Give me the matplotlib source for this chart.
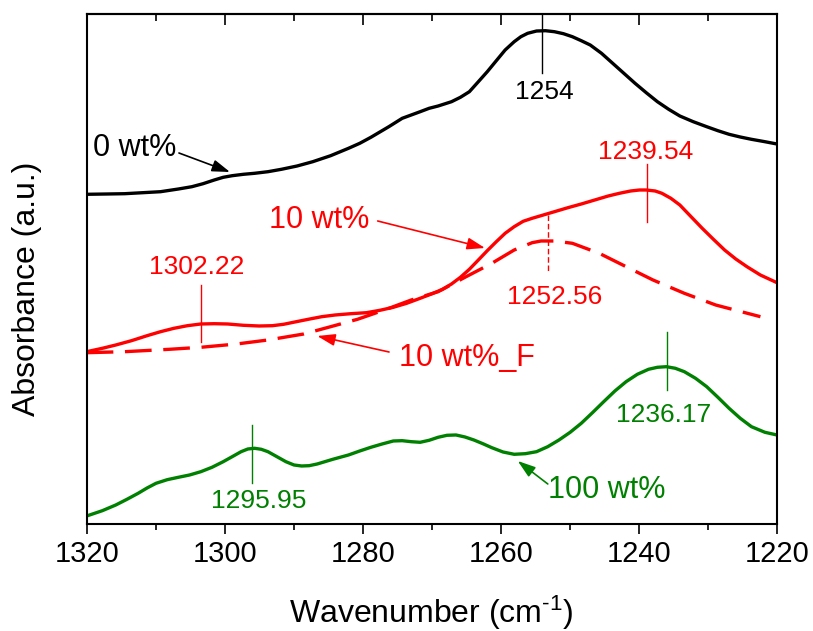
import matplotlib
matplotlib.use("Agg")
import matplotlib.pyplot as plt
from matplotlib.ticker import MultipleLocator

plt.rcParams['font.family'] = ['Liberation Sans', 'DejaVu Sans']
plt.rcParams['mathtext.fontset'] = 'custom'
plt.rcParams['mathtext.rm'] = 'Liberation Sans'
plt.rcParams['mathtext.it'] = 'Liberation Sans:italic'

# ---- data (wavenumber in cm-1, absorbance in arbitrary offset units) ----
w_0 = [1320, 1317.08, 1314.49, 1311.89, 1309.30, 1306.71, 1304.76, 1303.14, 1301.52,
       1300.22, 1298.92, 1297.30, 1295.68, 1293.74, 1291.79, 1289.52, 1287.25, 1284.66,
       1282.07, 1280.44, 1278.83, 1276.23, 1274.29, 1272.99, 1271.69, 1270.39, 1269.09,
       1267.15, 1265.86, 1264.56, 1263.26, 1261.97, 1260.66, 1259.38, 1258.07, 1257.10,
       1256.12, 1254.83, 1253.53, 1252.24, 1250.93, 1249.64, 1248.35, 1247.05, 1245.42,
       1243.80, 1242.18, 1240.56, 1238.94, 1237.32, 1235.69, 1234.07, 1232.13, 1230.18,
       1228.56, 1226.94, 1225.32, 1223.70, 1221.75, 1220.0]
a_0 = [3.297, 3.30, 3.303, 3.313, 3.323, 3.35, 3.373, 3.403, 3.44,
       3.467, 3.483, 3.497, 3.507, 3.523, 3.547, 3.58, 3.623, 3.683,
       3.757, 3.807, 3.867, 3.973, 4.057, 4.09, 4.123, 4.157, 4.18,
       4.223, 4.267, 4.323, 4.423, 4.523, 4.633, 4.74, 4.823, 4.873,
       4.907, 4.93, 4.933, 4.923, 4.903, 4.873, 4.833, 4.79, 4.707,
       4.607, 4.507, 4.407, 4.313, 4.223, 4.147, 4.08, 4.023, 3.973,
       3.933, 3.897, 3.87, 3.847, 3.823, 3.80]

w_10 = [1320, 1317.73, 1315.78, 1313.51, 1311.25, 1309.30, 1307.35, 1305.41, 1303.46,
        1301.52, 1299.57, 1297.30, 1295.03, 1293.09, 1291.47, 1289.84, 1287.90, 1285.95,
        1284.01, 1281.74, 1279.47, 1277.52, 1275.58, 1273.64, 1271.69, 1270.06, 1268.44,
        1267.15, 1265.86, 1264.56, 1263.26, 1261.97, 1260.66, 1259.38, 1258.07, 1256.77,
        1255.47, 1253.85, 1252.24, 1250.29, 1248.35, 1246.40, 1244.45, 1242.83, 1241.21,
        1239.92, 1238.94, 1237.64, 1236.67, 1235.37, 1234.07, 1232.45, 1230.83, 1229.21,
        1227.59, 1225.97, 1224.35, 1222.41, 1220]
a_10 = [1.723, 1.757, 1.79, 1.833, 1.883, 1.923, 1.957, 1.983, 2.00,
        2.003, 2.00, 1.987, 1.98, 1.983, 1.997, 2.02, 2.047, 2.073,
        2.09, 2.103, 2.113, 2.137, 2.167, 2.207, 2.257, 2.30, 2.347,
        2.40, 2.467, 2.547, 2.64, 2.733, 2.823, 2.907, 2.973, 3.027,
        3.057, 3.09, 3.123, 3.163, 3.20, 3.24, 3.28, 3.307, 3.33,
        3.34, 3.34, 3.33, 3.307, 3.257, 3.19, 3.073, 2.957, 2.847,
        2.74, 2.65, 2.573, 2.49, 2.413]

w_10F = [1320, 1314.49, 1308.0, 1303.46, 1298.27, 1293.74, 1288.55, 1284.66, 1280.77,
         1276.87, 1272.98, 1269.09, 1265.20, 1261.31, 1258.07, 1255.47, 1254.18, 1252.24,
         1249.64, 1245.75, 1241.85, 1237.96, 1233.42, 1228.88, 1222.40]
a_10F = [1.713, 1.723, 1.747, 1.767, 1.80, 1.84, 1.90, 1.973, 2.047,
         2.14, 2.24, 2.323, 2.467, 2.607, 2.74, 2.813, 2.83, 2.83,
         2.807, 2.707, 2.573, 2.44, 2.307, 2.19, 2.073]

w_100 = [1320, 1317.73, 1315.78, 1314.16, 1312.54, 1311.25, 1309.95, 1308.33, 1306.71,
         1305.09, 1303.46, 1301.84, 1300.22, 1298.92, 1297.63, 1296.65, 1295.68, 1294.71,
         1293.74, 1292.44, 1291.14, 1289.97, 1288.87, 1287.77, 1286.60, 1284.34, 1282.07,
         1280.44, 1278.83, 1277.20, 1275.58, 1274.29, 1272.99, 1271.69, 1270.39, 1269.09,
         1267.80, 1266.50, 1265.20, 1263.91, 1262.61, 1261.31, 1259.69, 1258.07, 1256.45,
         1254.83, 1253.21, 1251.58, 1249.96, 1248.35, 1246.73, 1245.10, 1243.48, 1241.86,
         1240.23, 1238.61, 1237.32, 1236.02, 1234.73, 1233.42, 1231.80, 1230.18, 1228.56,
         1226.94, 1225.32, 1223.70, 1221.75, 1220]
a_100 = [0.08, 0.133, 0.19, 0.247, 0.307, 0.36, 0.407, 0.443, 0.467,
         0.49, 0.523, 0.567, 0.623, 0.673, 0.723, 0.75, 0.757, 0.747,
         0.723, 0.673, 0.623, 0.59, 0.58, 0.583, 0.60, 0.647, 0.69,
         0.73, 0.767, 0.80, 0.83, 0.833, 0.823, 0.817, 0.837, 0.867,
         0.887, 0.89, 0.87, 0.84, 0.803, 0.763, 0.72, 0.697, 0.703,
         0.723, 0.773, 0.84, 0.917, 1.007, 1.113, 1.223, 1.33, 1.423,
         1.497, 1.547, 1.567, 1.573, 1.557, 1.523, 1.457, 1.373, 1.267,
         1.157, 1.057, 0.973, 0.917, 0.89]

xticks = [1320, 1300, 1280, 1260, 1240, 1220]

BLACK = '#000000'
RED = '#ff0000'
GREEN = '#008000'

fig = plt.figure(figsize=(8.13, 6.31), dpi=100)
ax = fig.add_axes([0.1066, 0.1696, 0.8491, 0.8082])

lw = 2.4
ax.plot(w_0, a_0, color=BLACK, lw=lw)
ax.plot(w_10, a_10, color=RED, lw=lw)
ax.plot(w_10F, a_10F, color=RED, lw=lw, ls=(0, (8, 3.5)))
ax.plot(w_100, a_100, color=GREEN, lw=lw)

ax.set_xlim(1320, 1220)
ax.set_ylim(0, 5.10)

# peak marker lines
vl = 1.0
ax.plot([1254.0, 1254.0], [5.10, 4.51], color=BLACK, lw=vl)
ax.plot([1238.9, 1238.9], [3.60, 3.02], color=RED, lw=vl)
ax.plot([1303.4, 1303.4], [2.39, 1.82], color=RED, lw=vl)
ax.plot([1253.1, 1253.1], [3.09, 2.51], color=RED, lw=vl, ls=(0, (4, 2)))
ax.plot([1296.0, 1296.0], [0.99, 0.41], color=GREEN, lw=vl)
ax.plot([1235.9, 1235.9], [1.92, 1.34], color=GREEN, lw=vl)

pk = 19
ax.text(1253.75, 4.32, '1254', color=BLACK, fontsize=pk, ha='center', va='center')
ax.text(1239.1, 3.72, '1239.54', color=RED, fontsize=pk, ha='center', va='center')
ax.text(1304.0, 2.57, '1302.22', color=RED, fontsize=pk, ha='center', va='center')
ax.text(1252.2, 2.27, '1252.56', color=RED, fontsize=pk, ha='center', va='center')
ax.text(1295.15, 0.23, '1295.95', color=GREEN, fontsize=pk, ha='center', va='center')
ax.text(1236.4, 1.09, '1236.17', color=GREEN, fontsize=pk, ha='center', va='center')

lab = 22
def arrow(tail, head, color):
    ax.annotate('', xy=head, xytext=tail,
                arrowprops=dict(arrowstyle='-|>,head_length=0.6,head_width=0.2',
                                color=color, lw=1.2,
                                mutation_scale=18, shrinkA=0, shrinkB=0))

ax.text(1313.07, 3.76, '0 wt%', color=BLACK, fontsize=lab, ha='center', va='center')
arrow((1306.63, 3.71), (1299.24, 3.52), BLACK)
ax.text(1286.27, 3.04, '10 wt%', color=RED, fontsize=lab, ha='center', va='center')
arrow((1277.84, 3.03), (1262.3, 2.76), RED)
ax.text(1264.9, 1.66, '10 wt%_F', color=RED, fontsize=lab, ha='center', va='center')
arrow((1276.2, 1.72), (1286.6, 1.88), RED)
ax.text(1244.6, 0.34, '100 wt%', color=GREEN, fontsize=lab, ha='center', va='center')
arrow((1253.2, 0.40), (1257.55, 0.63), GREEN)

# axes styling
for s in ax.spines.values():
    s.set_linewidth(1.5)
ax.set_xticks(xticks)
ax.xaxis.set_minor_locator(MultipleLocator(10))
ax.set_yticks([])
ax.tick_params(axis='x', which='major', direction='out', length=7.2, width=1.2,
               labelsize=21, pad=4, top=False)
ax.tick_params(axis='x', which='minor', direction='out', length=4.5, width=1.2, top=False)

axt = ax.secondary_xaxis('top')
axt.set_xticks(xticks)
axt.xaxis.set_minor_locator(MultipleLocator(10))
axt.tick_params(axis='x', which='major', direction='in', length=8, width=1.2, labeltop=False)
axt.tick_params(axis='x', which='minor', direction='in', length=4.8, width=1.2)
axt.spines['top'].set_linewidth(1.5)

fig.text(431 / 813, 1 - 613 / 631, 'Wavenumber (cm$^{\\text{-1}}$)', fontsize=23,
         ha='center', va='center')
fig.text(27 / 813, 1 - 288.5 / 631, 'Absorbance (a.u.)', fontsize=23,
         ha='center', va='center', rotation=90)

fig.savefig('out.png', dpi=100)
